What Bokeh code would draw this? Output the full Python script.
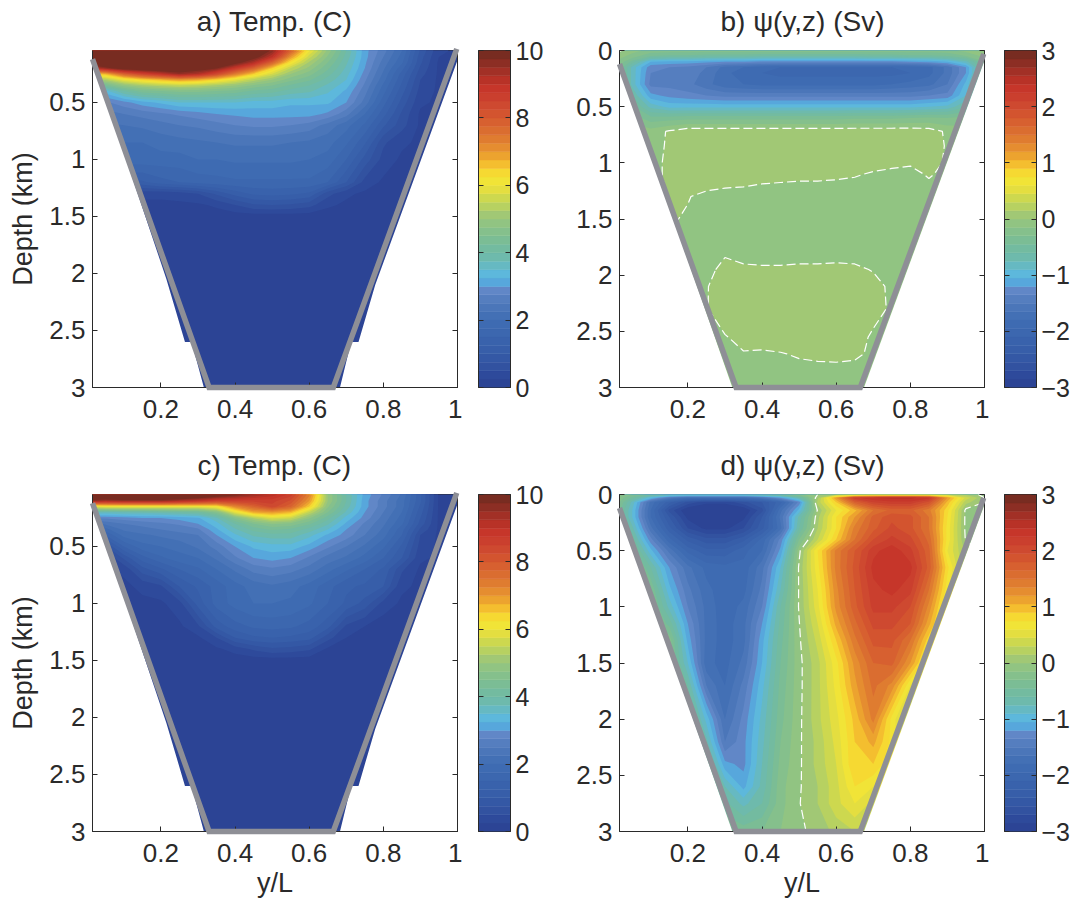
from bokeh.plotting import figure
from bokeh.layouts import row, column
from bokeh.models import Range1d, FixedTicker, LinearAxis
from bokeh.core.properties import value
from bokeh.embed import file_html
from bokeh.resources import INLINE
import numpy as np

FONT = "Liberation Sans"
FS = "26px"
CB_FS = "25px"
TITLE_FS = "28px"
LABEL_FS = "27px"
INK = "#2a2a2a"

X = [.0156,.05,.1,.15,.2,.25,.3,.35,.4,.45,.5,.55,.6,.65,.7,.75,.8,.85,.9,.95,1.0]

Z_TEMP = [0,.05,.1,.15,.2,.25,.3,.35,.4,.5,.6,.7,.85,1.0,1.2,1.3,1.4,1.5,3.0]

TEMP_A = [
 [11,11,11,11,11,11,11,11,11,10.6,9.8,8,6.4,5,4,3.15,2.6,2,1,.3,.2],
 [11,11,11,11,11,11,11,11,11,10.5,9.6,7.8,6,4.9,4,3.1,2.6,2,.95,.3,.2],
 [11,11,11,11,11,11,11,11,10.7,10.1,9,7,5.6,4.7,3.9,3.1,2.5,1.9,.85,.25,.2],
 [10.6,10.8,11,11,11,11,11,10.7,10.1,9.2,7.8,6.2,5.2,4.5,3.8,3.05,2.4,1.8,.8,.2,.2],
 [9,9.5,10.2,10.4,10.5,10.4,10.2,9.8,8.8,7.8,6.5,5.5,4.9,4.3,3.7,3,2.3,1.6,.7,.2,.2],
 [6.5,6.7,7.8,8.5,9,9.5,9.2,8.4,7.4,6.5,5.7,5,4.6,4.1,3.6,2.9,2.2,1.4,.6,.2,.2],
 [5.2,5.3,6,6.4,6.7,7,6.8,6.4,5.9,5.4,5,4.6,4.3,3.9,3.5,2.8,2.1,1.3,.5,.2,.2],
 [4.2,4.3,4.9,5.2,5.4,5.5,5.4,5.2,5,4.7,4.5,4.2,4,3.7,3.35,2.7,1.95,1.2,.45,.2,.2],
 [3.4,3.4,4,4.4,4.5,4.6,4.6,4.5,4.4,4.2,4.1,3.9,3.8,3.55,3.2,2.6,1.85,1.1,.4,.2,.2],
 [2.7,2.7,2.9,3.15,3.3,3.5,3.5,3.5,3.5,3.4,3.4,3.3,3.3,3.3,3,2.4,1.6,.9,.3,.2,.2],
 [2.4,2.4,2.5,2.6,2.7,2.8,2.9,3,3.05,3.1,3.1,3.1,3.1,2.95,2.6,2,1.35,.7,.2,.2,.2],
 [2.2,2.2,2.25,2.3,2.4,2.5,2.55,2.65,2.75,2.8,2.8,2.75,2.65,2.4,2.1,1.7,1.05,.6,.2,.2,.2],
 [1.9,1.9,2,2,2.1,2.15,2.2,2.25,2.3,2.3,2.3,2.25,2.2,2.1,1.8,1.3,.55,.3,.2,.2,.2],
 [1.9,1.9,1.9,1.9,1.9,1.9,2,2,2.05,2.05,2.05,2.05,2,1.9,1.5,.9,.4,.2,.2,.2,.2],
 [1.2,1.2,1.2,1.2,1.4,1.5,1.6,1.65,1.7,1.7,1.7,1.7,1.7,1.5,1,.4,.2,.2,.2,.2,.2],
 [.3,.3,.3,.3,.3,.35,.5,.8,1.1,1.3,1.35,1.3,1.2,.6,.3,.2,.2,.2,.2,.2,.2],
 [.2,.2,.2,.2,.2,.2,.2,.3,.5,.7,.75,.7,.6,.3,.2,.2,.2,.2,.2,.2,.2],
 [.1,.1,.1,.1,.1,.1,.1,.1,.1,.1,.1,.1,.1,.1,.1,.1,.1,.1,.1,.1,.1],
 [.1,.1,.1,.1,.1,.1,.1,.1,.1,.1,.1,.1,.1,.1,.1,.1,.1,.1,.1,.1,.1],
]

TEMP_C = [
 [11,11,11,11,11,11,11,11,10.6,10.2,9.6,8.8,7.4,5,4,3.15,2.7,2.2,1.4,.2,.2],
 [11,11,11,11,11,11,10.6,10.2,9.8,9.4,9.1,8.6,7.3,5,4,3.15,2.7,2.2,1.3,.2,.2],
 [9.5,9.3,9.5,9.5,9.5,9.2,9,8.6,8.6,8.6,8.6,8.2,7,5,4,3.1,2.6,2.1,1.3,.2,.2],
 [5.8,6,6,6,6,6,6,6.2,7.2,7.8,8.4,7.8,6.5,4.8,3.9,3.1,2.6,2.1,1.2,.2,.2],
 [3.8,3.7,3.8,3.8,3.9,4,4.1,4.6,5.9,6.8,7,6.7,5.5,4.5,3.7,3,2.5,2,1.1,.2,.2],
 [2.8,2.8,2.9,3,3,3.1,3.2,3.7,4.6,5.3,5.8,5.6,4.8,4.1,3.4,2.9,2.4,1.9,1,.2,.2],
 [2.2,2.3,2.5,2.6,2.7,2.8,3,3.4,4,4.5,4.8,4.7,4.3,3.8,3.2,2.7,2.3,1.8,.9,.2,.2],
 [1.6,1.9,2.3,2.4,2.5,2.6,2.7,3.2,3.7,4.1,4.3,4.2,3.9,3.5,3,2.6,2.2,1.6,.7,.2,.2],
 [1,1.5,2.1,2.2,2.3,2.4,2.5,3,3.45,3.8,3.9,3.9,3.6,3.2,2.9,2.5,2.1,1.5,.5,.2,.2],
 [.45,.7,1.5,1.9,2,2.1,2.3,2.6,3,3.3,3.4,3.4,3.15,2.8,2.5,2.2,1.8,1.2,.4,.2,.2],
 [.2,.2,.8,1.4,1.7,1.9,2,2.3,2.7,3,3.1,3,2.7,2.4,2.2,1.9,1.5,1,.3,.2,.2],
 [.2,.2,.3,.9,1.2,1.5,1.7,2,2.3,2.6,2.7,2.6,2.4,2.1,1.8,1.5,1.2,.55,.2,.2,.2],
 [.2,.2,.2,.3,.45,1,1.3,1.6,1.9,2.1,2.2,2.1,1.9,1.6,1.3,1.2,1,.3,.2,.2,.2],
 [.1,.1,.1,.2,.2,.4,1.1,1.6,1.85,2,2,1.95,1.8,1.5,1.2,.9,.4,.2,.2,.2,.2],
 [.1,.1,.1,.1,.1,.2,.45,1.1,1.4,1.55,1.6,1.55,1.4,1.1,.45,.25,.1,.1,.1,.1,.1],
 [.1,.1,.1,.1,.1,.1,.2,.5,1,1.2,1.25,1.2,1.1,.6,.25,.1,.1,.1,.1,.1,.1],
 [.1,.1,.1,.1,.1,.1,.1,.2,.35,.55,.7,.65,.55,.2,.1,.1,.1,.1,.1,.1,.1],
 [.1,.1,.1,.1,.1,.1,.1,.1,.1,.1,.1,.1,.1,.1,.1,.1,.1,.1,.1,.1,.1],
 [.1,.1,.1,.1,.1,.1,.1,.1,.1,.1,.1,.1,.1,.1,.1,.1,.1,.1,.1,.1,.1],
]

Z_PSI_B = [0,.05,.1,.15,.2,.3,.4,.5,.6,.72,.85,1.0,1.1,1.2,1.3,1.5,1.8,1.95,2.1,2.3,2.55,2.7,2.85,3.0]

PSI_B = [
 [.02,-.1,-.2,-.2,-.2,-.2,-.2,-.2,-.2,-.2,-.2,-.2,-.2,-.2,-.2,-.2,-.2,-.2,-.2,-.1,-.05],
 [-.1,-.2,-.45,-.5,-.5,-.55,-.55,-.55,-.6,-.6,-.6,-.6,-.6,-.6,-.55,-.55,-.5,-.5,-.45,-.3,-.1],
 [-.2,-.5,-1.05,-1.1,-1.1,-1.15,-1.2,-1.2,-1.25,-1.25,-1.25,-1.25,-1.25,-1.25,-1.25,-1.25,-1.2,-1.15,-1.05,-.8,-.3],
 [-.3,-.8,-1.3,-1.35,-1.4,-1.5,-1.7,-1.8,-1.9,-1.95,-1.95,-1.95,-1.95,-1.95,-1.95,-1.95,-1.9,-1.85,-1.6,-1.2,-.3],
 [-.3,-.8,-1.35,-1.4,-1.4,-1.55,-1.75,-1.9,-1.95,-2,-2,-2,-2,-2,-2,-2,-1.95,-1.85,-1.6,-1.2,-.3],
 [-.3,-.8,-1.4,-1.4,-1.45,-1.6,-1.75,-1.8,-1.85,-1.85,-1.85,-1.85,-1.85,-1.85,-1.85,-1.8,-1.75,-1.7,-1.5,-1,-.3],
 [-.3,-.6,-1.15,-1.25,-1.3,-1.35,-1.4,-1.4,-1.4,-1.4,-1.4,-1.4,-1.4,-1.4,-1.4,-1.4,-1.4,-1.35,-1.3,-.9,-.3],
 [-.2,-.4,-.8,-.95,-.95,-.95,-.95,-.95,-.95,-.95,-.95,-.95,-.95,-.95,-.95,-.95,-.95,-.9,-.85,-.6,-.3],
 [-.1,-.2,-.4,-.38,-.35,-.35,-.35,-.35,-.35,-.35,-.35,-.35,-.35,-.33,-.33,-.33,-.3,-.28,-.3,-.25,-.1],
 [-.05,-.08,-.08,.02,.1,.1,.1,.1,.1,.1,.1,.1,.1,.1,.1,.1,.1,.08,-.03,-.08,-.05],
 [-.05,-.08,-.08,.03,.12,.13,.13,.13,.13,.13,.13,.13,.13,.13,.13,.13,.12,.1,-.02,-.08,-.05],
 [-.05,-.08,-.08,.05,.12,.13,.13,.13,.13,.12,.11,.1,.09,.08,.07,.05,.02,.05,-.02,-.08,-.05],
 [-.05,-.08,-.08,.05,.1,.1,.09,.08,.07,.06,.05,.05,.04,.02,-.02,-.05,-.05,.02,-.05,-.08,-.05],
 [-.05,-.08,-.08,.03,.06,.05,.02,.01,-.01,-.02,-.03,-.03,-.04,-.05,-.06,-.06,-.06,-.03,-.06,-.08,-.05],
 [-.05,-.08,-.08,.02,.01,-.05,-.06,-.06,-.07,-.07,-.07,-.07,-.07,-.07,-.07,-.07,-.07,-.07,-.07,-.08,-.05],
 [-.1,-.1,-.1,.02,-.02,-.1,-.1,-.1,-.1,-.1,-.1,-.1,-.1,-.1,-.1,-.1,-.1,-.1,-.1,-.1,-.1],
 [-.08,-.08,-.08,-.08,-.08,-.06,-.02,-.06,-.06,-.06,-.06,-.06,-.06,-.06,-.06,-.06,-.06,-.06,-.06,-.06,-.06],
 [-.08,-.08,-.08,-.1,-.1,-.05,.05,.03,.02,.02,.03,.03,.04,.03,-.01,-.05,-.06,-.06,-.06,-.06,-.06],
 [-.05,-.05,-.05,-.05,-.05,-.01,.08,.1,.1,.1,.1,.1,.1,.1,.05,-.03,-.05,-.05,-.05,-.05,-.05],
 [-.05,-.05,-.05,-.05,-.05,-.01,.1,.1,.1,.1,.1,.1,.1,.1,.07,-.03,-.05,-.05,-.05,-.05,-.05],
 [-.05,-.05,-.05,-.05,-.05,-.05,-.01,.05,.1,.1,.1,.1,.1,.08,-.03,-.05,-.05,-.05,-.05,-.05,-.05],
 [-.05,-.05,-.05,-.05,-.05,-.05,-.01,-.01,-.03,-.01,.02,.04,.05,.03,-.03,-.05,-.05,-.05,-.05,-.05,-.05],
 [-.05,-.05,-.05,-.05,-.05,-.05,-.05,-.05,-.05,-.05,-.05,-.05,-.05,-.05,-.05,-.05,-.05,-.05,-.05,-.05,-.05],
 [-.1,-.1,-.1,-.1,-.1,-.1,-.1,-.1,-.1,-.1,-.1,-.1,-.1,-.1,-.1,-.1,-.1,-.1,-.1,-.1,-.1],
]

Z_PSI_D = [0,.03,.07,.14,.2,.3,.4,.5,.65,.85,1.0,1.15,1.3,1.5,1.7,2.0,2.2,2.4,2.6,2.75,3.0]

PSI_D = [
 [-.1,-.3,-.5,-.6,-.6,-.6,-.6,-.6,-.5,-.4,-.2,0,.1,.2,.25,.3,.3,.25,.2,.1,-.05],
 [-.2,-.5,-1,-1.5,-1.8,-1.8,-1.8,-1.8,-1.6,-1.2,-.7,.1,1.2,2.2,2.4,2.45,2.45,2.3,1.2,.4,0],
 [-.3,-.8,-1.7,-2.2,-2.6,-2.8,-2.8,-2.6,-2.4,-2,-1.3,.2,.9,1.7,2.1,2.2,2.2,1.9,1,.2,0],
 [-.4,-.9,-1.8,-2.6,-3,-3.1,-3.1,-3,-2.6,-1.7,-1,.02,.6,1,1.5,1.7,1.7,1.4,.8,-.05,-.05],
 [-.4,-.9,-1.8,-2.4,-2.9,-3.1,-3.1,-2.9,-2.4,-1.6,-.7,.1,.75,1.2,1.7,1.9,1.85,1.5,.75,-.05,-.05],
 [-.3,-.7,-1.6,-2.2,-2.7,-2.9,-2.9,-2.7,-2.3,-1.7,-.6,.15,.75,1.4,1.75,2,1.85,1.5,.7,-.05,-.05],
 [-.2,-.5,-1.3,-1.9,-2.3,-2.5,-2.5,-2.3,-1.9,-1.3,-.3,.3,.9,1.5,1.95,2.15,2,1.6,.7,-.03,0],
 [-.1,-.3,-1,-1.55,-2,-2.2,-2.2,-2,-1.8,-1.15,-.05,.75,1.4,1.8,2.2,2.35,2.15,1.7,.6,.1,0],
 [-.05,-.1,-.6,-1.2,-1.6,-1.85,-1.9,-1.9,-1.55,-.9,.03,.7,1.4,1.85,2.3,2.4,2.3,1.75,.8,.1,0],
 [-.05,-.1,-.3,-1,-1.45,-1.75,-1.9,-1.85,-1.45,-.75,.02,.6,1.3,1.8,2.2,2.3,2.15,1.5,.65,.1,0],
 [-.05,-.1,-.2,-.8,-1.35,-1.7,-1.9,-1.75,-1.35,-.6,.02,.55,1.25,1.75,2.15,2.15,1.95,1.3,.5,.1,0],
 [-.05,-.1,-.2,-.5,-1.2,-1.7,-1.88,-1.7,-1.2,-.55,-.01,.45,1.1,1.6,2,2,1.8,1.1,.4,.1,0],
 [-.05,-.1,-.2,-.2,-1.1,-1.7,-1.88,-1.7,-1.1,-.5,-.03,.35,.9,1.45,1.85,1.85,1.5,.8,.3,.1,0],
 [-.05,-.1,-.2,-.2,-.9,-1.75,-1.86,-1.6,-1.05,-.45,-.05,.25,.7,1.25,1.65,1.7,1.2,.5,.2,.1,0],
 [-.05,-.1,-.2,-.2,-.6,-1.5,-1.8,-1.45,-.95,-.4,-.05,.25,.65,1.15,1.55,1.3,.6,.3,.1,0,0],
 [-.05,-.1,-.2,-.2,-.3,-.95,-1.65,-1.3,-.85,-.35,-.04,.25,.55,.95,1.4,.7,.2,.2,.1,0,0],
 [-.05,-.1,-.2,-.2,-.2,-.7,-1.5,-1.25,-.8,-.3,-.03,.2,.5,.9,1.1,.7,.2,.2,.1,0,0],
 [-.05,-.1,-.2,-.2,-.2,-.4,-1.15,-1.25,-.75,-.25,-.03,.2,.45,.9,.9,.6,.2,.2,.1,0,0],
 [-.05,-.1,-.2,-.2,-.2,-.3,-.75,-1.1,-.7,-.2,-.02,.15,.4,.75,.6,.3,.2,.1,.1,0,0],
 [-.05,-.1,-.2,-.2,-.2,-.3,-.55,-.8,-.6,-.2,-.01,.15,.4,.6,.4,.2,.1,.1,.1,0,0],
 [-.05,-.1,-.2,-.2,-.2,-.3,-.3,-.35,-.3,-.15,-.03,.05,.2,.3,.1,.1,.1,.1,.1,0,0],
]

WALL_X = [.0156,.33,.665,.998]
WALL_Z = [.12,3.0,3.0,.03]

MASK_TEMP_LEFT_X = [0,.0156,.215,.265,.283,.316,0]
MASK_TEMP_LEFT_Z = [.09,.12,2.05,2.6,2.6,3.0,3.0]
MASK_TEMP_RIGHT_X = [1.01,.778,.733,.713,.683,1.01]
MASK_TEMP_RIGHT_Z = [.04,2.1,2.6,2.6,3.0,3.0]
MASK_PSI_LEFT_X = [0,.0156,.32,0]
MASK_PSI_LEFT_Z = [.09,.12,3.0,3.0]
MASK_PSI_RIGHT_X = [1.01,.675,1.01]
MASK_PSI_RIGHT_Z = [.0,3.0,3.0]

TITLES_TOP = ["a) Temp. (C)","b) \u03c8(y,z) (Sv)"]
TITLES_BOTTOM = ["c) Temp. (C)","d) \u03c8(y,z) (Sv)"]
X_TICKS = [.2,.4,.6,.8,1.0]
X_LABELS = ["0.2","0.4","0.6","0.8","1"]
Y_TICKS_A = [.5,1,1.5,2,2.5,3]
Y_LABELS_A = ["0.5","1","1.5","2","2.5","3"]
Y_TICKS_B = [0,.5,1,1.5,2,2.5,3]
Y_LABELS_B = ["0","0.5","1","1.5","2","2.5","3"]
CB_T_TICKS = [0,2,4,6,8,10]
CB_T_LABELS = ["0","2","4","6","8","10"]
CB_P_TICKS = [-3,-2,-1,0,1,2,3]
CB_P_LABELS = ["\u22123","\u22122","\u22121","0","1","2","3"]

STOPS = [(0,"#2b4292"),(.25,"#2d4798"),(1,"#365ca8"),(2,"#3f6db3"),(2.5,"#4f79bb"),(2.9,"#6288c8"),
         (3.05,"#569fd8"),(3.3,"#5ab8e4"),(3.8,"#6dbab0"),(4.2,"#74bb9c"),(4.6,"#84c08d"),(5.05,"#9ac67b"),
         (5.5,"#c2d557"),(5.9,"#e6df3e"),(6.25,"#f7e733"),(6.6,"#f5c12f"),(7,"#e8962f"),(7.5,"#dc7331"),
         (8,"#d55a2f"),(8.5,"#cc4330"),(9,"#c43228"),(9.5,"#963025"),(10,"#6e2a20")]

def hexrgb(c):
    return [int(c[i:i+2],16) for i in (1,3,5)]

def make_palette(n=40):
    ts=[s[0] for s in STOPS]
    rgb=np.array([hexrgb(s[1]) for s in STOPS],float)
    out=[]
    for i in range(n):
        t=(i+.5)*10/n
        out.append("#%02x%02x%02x"%tuple(int(round(np.interp(t,ts,rgb[:,k]))) for k in range(3)))
    return out

PAL = make_palette()
T_LEVELS = [k*.25 for k in range(40)]+[13.0]
T_LEVELS[0] = -1.0
P_LEVELS = [-5.0]+[round(-3+.15*k,2) for k in range(1,40)]+[5.0]

def style_axis(ax, labels=True, size=FS):
    ax.major_tick_in=5; ax.major_tick_out=0; ax.minor_tick_in=0; ax.minor_tick_out=0
    ax.major_tick_line_color=INK; ax.major_tick_line_width=1
    ax.axis_line_color=INK; ax.axis_line_width=1
    ax.major_label_text_font=FONT; ax.major_label_text_font_size=size if labels else "0px"
    ax.major_label_text_color=INK
    ax.axis_label_text_font=FONT; ax.axis_label_text_font_size=LABEL_FS
    ax.axis_label_text_font_style="normal"; ax.axis_label_text_color=INK

def header(titles):
    p=figure(frame_width=1070,frame_height=37,output_backend="svg",toolbar_location=None,
             x_range=Range1d(0,1070),y_range=Range1d(37,0),x_axis_location=None,y_axis_location=None,
             min_border_left=0,min_border_right=0,min_border_top=0,min_border_bottom=0,
             outline_line_color=None,background_fill_color="white",border_fill_color="white")
    p.grid.visible=False
    p.text(x=[274,802],y=[21,21],text=titles,text_align="center",text_baseline="middle",
           text_font=value(FONT),text_font_size=TITLE_FS,text_color=INK)
    return p

def panel(Z, F, levels, y0, yticks, ylabels, mask, zero, left, right, top, bottom, ylabel=None, xlabel=None):
    p=figure(frame_width=365,frame_height=337,output_backend="svg",toolbar_location=None,
             x_range=Range1d(X[0],1.0),y_range=Range1d(3.0,y0),
             min_border_left=left,min_border_right=right,min_border_top=top,min_border_bottom=bottom,
             background_fill_color="white",border_fill_color="white",outline_line_color=INK,outline_line_width=1)
    p.grid.visible=False
    xa=p.xaxis[0]; ya=p.yaxis[0]
    style_axis(xa); style_axis(ya)
    xa.ticker=FixedTicker(ticks=X_TICKS); xa.major_label_overrides=dict(zip(X_TICKS,X_LABELS)); xa.major_label_standoff=12
    ya.ticker=FixedTicker(ticks=yticks); ya.major_label_overrides=dict(zip(yticks,ylabels)); ya.major_label_standoff=7
    if ylabel: ya.axis_label=ylabel; ya.axis_label_standoff=8
    if xlabel: xa.axis_label=xlabel; xa.axis_label_standoff=3
    ra=LinearAxis(ticker=FixedTicker(ticks=yticks)); style_axis(ra,False); ra.major_label_standoff=0
    ra.major_label_overrides={t:"" for t in yticks}
    p.add_layout(ra,"right")
    field=np.array(F,float)
    for k in range(len(levels)-1):
        p.contour(X,Z,field,[levels[k],levels[-1]],fill_color=[PAL[k]],line_color=None)
    p.patch(mask[0],mask[1],fill_color="white",line_color=None)
    p.patch(mask[2],mask[3],fill_color="white",line_color=None)
    if zero:
        p.contour(X,Z,field,[0.0],line_color="white",line_width=1.2,line_dash="9 4")
    w=p.line(WALL_X,WALL_Z,line_color="#8e8f96",line_width=5.5,line_join="miter")
    w.level="overlay"
    return p

def cbar(lo, hi, ticks, labels, left, right, top, bottom):
    p=figure(frame_width=32,frame_height=337,output_backend="svg",toolbar_location=None,
             x_range=Range1d(0,1),y_range=Range1d(lo,hi),
             min_border_left=left,min_border_right=right,min_border_top=top,min_border_bottom=bottom,
             outline_line_color=INK,outline_line_width=1,background_fill_color="white",border_fill_color="white")
    p.grid.visible=False; p.xaxis.visible=False
    edges=[lo+(hi-lo)*k/40 for k in range(41)]
    p.quad(left=0,right=1,bottom=edges[:-1],top=edges[1:],fill_color=PAL,line_color=PAL,line_width=.5)
    la=p.yaxis[0]; style_axis(la,False); la.ticker=FixedTicker(ticks=ticks)
    la.major_label_overrides={t:"" for t in ticks}; la.major_label_standoff=0
    ra=LinearAxis(ticker=FixedTicker(ticks=ticks)); style_axis(ra,True,CB_FS); ra.major_label_standoff=5
    ra.major_label_overrides=dict(zip(ticks,labels))
    p.add_layout(ra,"right")
    return p

MT=(MASK_TEMP_LEFT_X,MASK_TEMP_LEFT_Z,MASK_TEMP_RIGHT_X,MASK_TEMP_RIGHT_Z)
MP=(MASK_PSI_LEFT_X,MASK_PSI_LEFT_Z,MASK_PSI_RIGHT_X,MASK_PSI_RIGHT_Z)

TOP=13; BOT1=57; BOT2=60
a=panel(Z_TEMP,TEMP_A,T_LEVELS,.044,Y_TICKS_A,Y_LABELS_A,MT,False,92,5,TOP,BOT1,ylabel="Depth (km)")
ca=cbar(0,10,CB_T_TICKS,CB_T_LABELS,16,61,TOP,BOT1)
b=panel(Z_PSI_B,PSI_B,P_LEVELS,0.0,Y_TICKS_B,Y_LABELS_B,MP,True,48,5,TOP,BOT1)
cb=cbar(-3,3,CB_P_TICKS,CB_P_LABELS,15,34,TOP,BOT1)
c=panel(Z_TEMP,TEMP_C,T_LEVELS,.044,Y_TICKS_A,Y_LABELS_A,MT,False,92,5,TOP,BOT2,ylabel="Depth (km)",xlabel="y/L")
cc=cbar(0,10,CB_T_TICKS,CB_T_LABELS,16,61,TOP,BOT2)
d=panel(Z_PSI_D,PSI_D,P_LEVELS,0.0,Y_TICKS_B,Y_LABELS_B,MP,True,48,5,TOP,BOT2,xlabel="y/L")
cd=cbar(-3,3,CB_P_TICKS,CB_P_LABELS,15,34,TOP,BOT2)

page=column(header(TITLES_TOP),row(a,ca,b,cb,spacing=0),header(TITLES_BOTTOM),row(c,cc,d,cd,spacing=0),spacing=0)
open("out.html","w").write(file_html(page,INLINE))
